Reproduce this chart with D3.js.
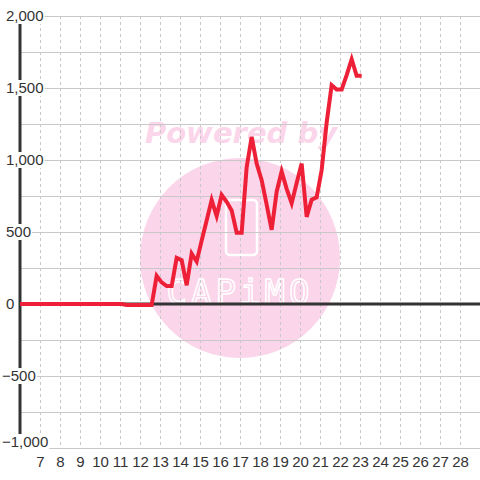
<!DOCTYPE html>
<html>
<head>
<meta charset="utf-8">
<script src="https://cdn.jsdelivr.net/npm/d3@7"></script>
<style>
  body { margin: 0; background: #fff; }
  svg { display: block; font-family: "Liberation Sans", Arial, sans-serif; }
</style>
</head>
<body>
<svg id="mainsvg" width="480" height="480"></svg>
<script>
// day of month (6-hourly samples) and value
var days = [6, 11.083, 11.333, 12.583, 12.833, 13.083, 13.333, 13.583, 13.833, 14.083,
  14.333, 14.583, 14.833, 15.083, 15.333, 15.583, 15.833, 16.083, 16.333, 16.583,
  16.833, 17.083, 17.333, 17.583, 17.833, 18.083, 18.333, 18.583, 18.833, 19.083,
  19.333, 19.583, 19.833, 20.083, 20.333, 20.583, 20.833, 21.083, 21.333, 21.583,
  21.833, 22.083, 22.333, 22.583, 22.833, 23.083];
var values = [0, 0, -7, -7, 195, 150, 125, 125, 320, 305,
  130, 350, 295, 440, 580, 722, 611, 757, 710, 650,
  495, 495, 950, 1160, 975, 860, 690, 515, 780, 920,
  800, 700, 840, 975, 605, 725, 740, 930, 1260, 1520,
  1490, 1490, 1590, 1700, 1585, 1585];
var xTicks = d3.range(7, 29);
var yTicks = [-1000, -500, 0, 500, 1000, 1500, 2000];
var yGrid = d3.range(-1000, 2001, 250);

var svg = d3.select("#mainsvg");
var x = d3.scaleLinear().domain([6, 29]).range([20, 480]);
var y = d3.scaleLinear().domain([-1000, 2000]).range([448, 16]);
var fmt = d3.format(",");

// watermark
var wm = svg.append("g").attr("id", "watermark");
wm.append("circle").attr("cx", 240).attr("cy", 258).attr("r", 100).attr("fill", "#fbd5ea");
wm.append("text").attr("x", 241).attr("y", 143)
  .attr("text-anchor", "middle")
  .attr("font-size", 29).attr("font-weight", "bold").attr("font-style", "italic")
  .attr("font-family", "DejaVu Sans, sans-serif")
  .attr("fill", "#fbd5ea").text("Powered by");
wm.append("rect").attr("x", 226).attr("y", 200).attr("width", 31).attr("height", 55)
  .attr("rx", 4).attr("fill", "none").attr("stroke", "#fff").attr("stroke-width", 2.5);
wm.append("text").attr("x", 240).attr("y", 304)
  .attr("text-anchor", "middle")
  .attr("font-size", 34).attr("letter-spacing", 4)
  .attr("font-family", "DejaVu Sans Mono, monospace")
  .attr("fill", "none").attr("stroke", "#fff").attr("stroke-width", 1.5)
  .text("CAPiMO");

// grid
var grid = svg.append("g").attr("id", "grid");
grid.selectAll("line.h").data(yGrid).enter().append("line")
  .attr("class", "h")
  .attr("x1", 20).attr("x2", 480)
  .attr("y1", function (d) { return y(d) + 0.5; })
  .attr("y2", function (d) { return y(d) + 0.5; })
  .attr("stroke", "#c8c8c8").attr("stroke-width", 1);
grid.selectAll("line.v").data(xTicks).enter().append("line")
  .attr("class", "v")
  .attr("x1", function (d) { return x(d) + 0.5; })
  .attr("x2", function (d) { return x(d) + 0.5; })
  .attr("y1", y(2000)).attr("y2", y(-1000))
  .attr("stroke", "#c8c8c8").attr("stroke-width", 1)
  .attr("stroke-dasharray", "3,3");

// zero line and y axis line
svg.append("line").attr("x1", x(6)).attr("x2", 480)
  .attr("y1", y(0)).attr("y2", y(0))
  .attr("stroke", "#333").attr("stroke-width", 3);
svg.append("line").attr("x1", x(6)).attr("x2", x(6))
  .attr("y1", y(2000)).attr("y2", y(-1000))
  .attr("stroke", "#333").attr("stroke-width", 3);

// y labels with white boxes (kept inside the plot at the bottom)
var yl = svg.append("g").attr("id", "ylabels");
yTicks.forEach(function (d) {
  var lx = d < 0 ? 2 : 6;
  var ly = Math.min(y(d), 442);
  var t = yl.append("text").attr("x", lx).attr("y", ly)
    .attr("dy", "0.35em").attr("font-size", 15).attr("fill", "#333")
    .text(fmt(d));
  var bb = t.node().getBBox();
  yl.insert("rect", "text").attr("x", bb.x - 1).attr("y", ly - 8)
    .attr("width", bb.width + 2).attr("height", 16).attr("fill", "#fff");
});

// x labels
svg.append("g").attr("id", "xlabels").selectAll("text").data(xTicks).enter().append("text")
  .attr("x", function (d) { return x(d) + 0.5; })
  .attr("y", 462).attr("dy", "0.35em")
  .attr("text-anchor", "middle").attr("font-size", 15).attr("fill", "#333")
  .text(function (d) { return d; });

// series
var line = d3.line()
  .x(function (d, i) { return x(days[i]); })
  .y(function (d) { return y(d); });
svg.append("path").attr("d", line(values))
  .attr("fill", "none").attr("stroke", "#ee2037").attr("stroke-width", 4)
  .attr("stroke-linejoin", "miter");
</script>
</body>
</html>
